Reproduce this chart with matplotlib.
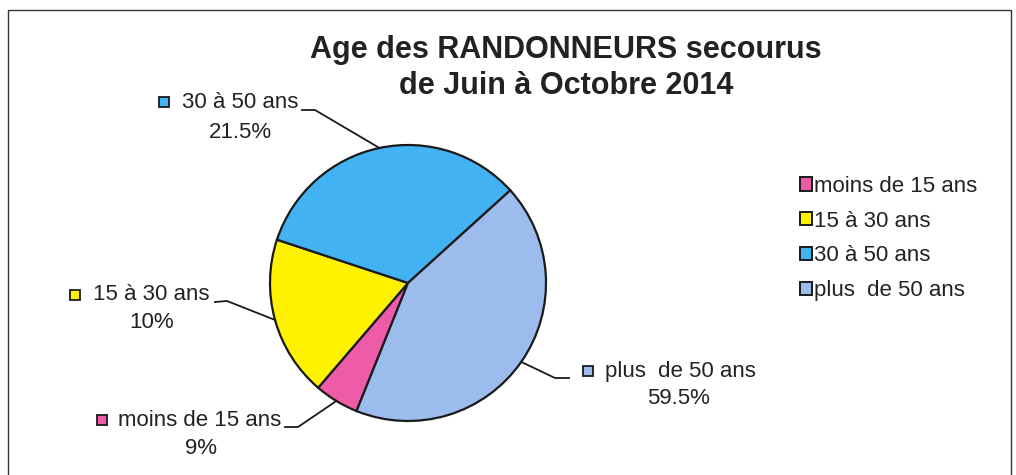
import numpy as np
import matplotlib
matplotlib.use("Agg")
import matplotlib.pyplot as plt
from matplotlib.patches import Rectangle

# data (slice shares, label texts as printed)
categories = ["moins de 15 ans", "15 à 30 ans", "30 à 50 ans", "plus  de 50 ans"]
shares = [5.2, 18.8, 33.2, 42.8]
pct_labels = ["9%", "10%", "21.5%", "59.5%"]
colors = ["#EE5CA8", "#FFF200", "#42B2F2", "#9DBCEE"]

plt.rcParams["font.family"] = ["Liberation Sans", "DejaVu Sans"]
W, H = 1016, 475
fig = plt.figure(figsize=(W / 100, H / 100), dpi=100)
ax = fig.add_axes([0, 0, 1, 1])


def py(y):
    # pixel row (from top) -> data y
    return H - y


cx, cy, r = 408, py(283), 138
wedges, _ = ax.pie(shares, colors=colors, startangle=248.1, counterclock=False,
                   center=(cx, cy), radius=r, frame=True,
                   wedgeprops=dict(edgecolor="#1a1a1a", linewidth=1.6))
ax.set_xlim(0, W)
ax.set_ylim(0, H)
ax.set_aspect("equal")
ax.axis("off")

# outer frame of the chart area
ax.add_patch(Rectangle((8, -20), 1003, py(10) + 20, fill=False,
                       edgecolor="#333333", linewidth=1.0))

text_col = "#222222"
fs = 16
# label layout: square marker, text left, pct centre, elbow start/end (pixel coords)
label_pos = [
    dict(sq=(102, 420), tx=118, pc=(201, 448), elbow=[(285, 427), (298, 427)]),
    dict(sq=(75, 295), tx=93, pc=(152, 322), elbow=[(215, 302), (227, 301)]),
    dict(sq=(164, 102), tx=182, pc=(240, 132), elbow=[(302, 110), (315, 110)]),
    dict(sq=(588, 371), tx=605, pc=(678, 398), elbow=[(569, 378), (555, 378)]),
]

for w, cat, pct, col, lp in zip(wedges, categories, pct_labels, colors, label_pos):
    mid = np.deg2rad((w.theta1 + w.theta2) / 2)
    ex, ey = cx + r * np.cos(mid), cy + r * np.sin(mid)
    (x0, y0), (x1, y1) = lp["elbow"]
    ax.plot([x0, x1, ex], [py(y0), py(y1), ey], color="#1a1a1a", lw=1.3,
            solid_joinstyle="miter")
    ax.plot(lp["sq"][0], py(lp["sq"][1]), marker="s", markersize=7.5,
            mfc=col, mec="#1a1a1a", mew=1.3)
    ax.text(lp["tx"], py(lp["sq"][1]), cat, fontsize=fs, color=text_col,
            ha="left", va="center")
    ax.text(lp["pc"][0], py(lp["pc"][1]), pct, fontsize=fs, color=text_col,
            ha="center", va="center")

ax.text(566, py(50), "Age des RANDONNEURS secourus", fontsize=22,
        fontweight="bold", color=text_col, ha="center", va="center")
ax.text(566, py(86), "de Juin à Octobre 2014", fontsize=22,
        fontweight="bold", color=text_col, ha="center", va="center")

leg = ax.legend(wedges, categories, loc="upper left",
                bbox_to_anchor=(791 / W, 1 - 167 / H), frameon=False,
                fontsize=fs, handlelength=0.55, handleheight=0.55,
                handletextpad=0.1, labelspacing=0.62, borderaxespad=0,
                labelcolor=text_col)
for h in leg.legend_handles:
    h.set_linewidth(1.4)

fig.savefig("out.png", dpi=100)
